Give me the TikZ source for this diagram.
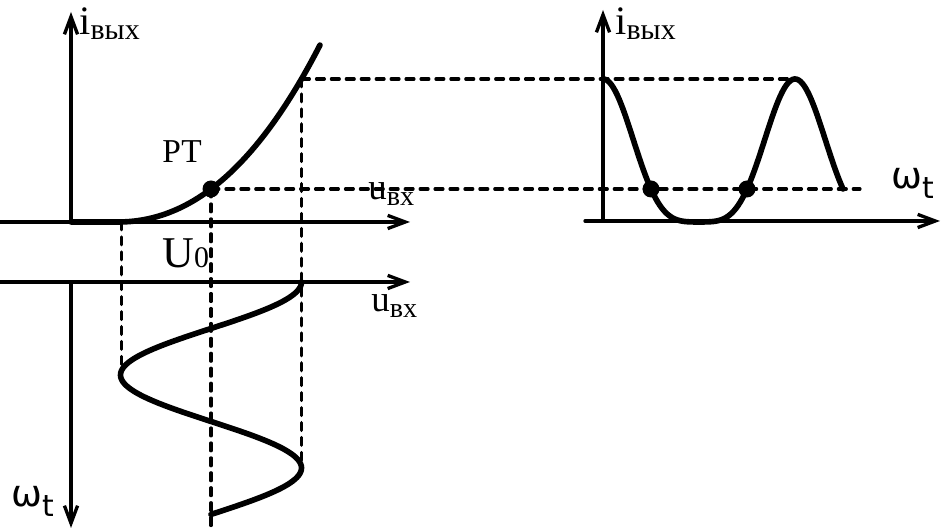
\documentclass[tikz,border=0pt]{standalone}
\usepackage{fontspec}
\setmainfont{Liberation Serif}
\newfontfamily\symfnt{DejaVu Sans}
\usepackage{tkz-euclide}
\usetikzlibrary{arrows.meta}
\tikzset{
  axisline/.style={line width=1.9pt,-{Straight Barb[length=10pt,width=7.5pt]}},
  curve/.style={line width=3.2pt,line cap=round,line join=round},
  guide/.style={line width=1.8pt,dash pattern=on 4.5pt off 4pt},
  lbl/.style={anchor=base west,inner sep=0pt}
}
\newcommand{\ivyh}{{\fontsize{23}{23}\selectfont i}\raisebox{-2.8pt}{\fontsize{17}{17}\selectfont вых}}
\newcommand{\uvh}{{\fontsize{21}{21}\selectfont u}\raisebox{-3pt}{\fontsize{16}{16}\selectfont вх}}
\newcommand{\wtlab}{{\symfnt\fontsize{21}{21}\selectfont ω}\raisebox{-5.5pt}{\symfnt\fontsize{17}{17}\selectfont t}}
\begin{document}
\begin{tikzpicture}[declare function={chr(\x)=6.18+0.1684*\x*\x+0.012*\x*\x*\x; inp(\x)=4.22+1.81*cos(\x);}]
    \useasboundingbox (0,0) rectangle (18.84,10.62);
    % axes
    \tkzDefPoint(0,6.18){A1}
    \tkzDefPoint(8.20,6.18){B1}
    \tkzDefPoint(1.42,6.18){O1}
    \tkzDefPoint(1.42,10.38){I1}
    \tkzDefPoint(0,4.98){A2}
    \tkzDefPoint(8.20,4.98){B2}
    \tkzDefPoint(1.42,4.98){O2}
    \tkzDefPoint(1.42,0.06){W2}
    \tkzDefPoint(11.70,6.20){A3}
    \tkzDefPoint(18.80,6.20){B3}
    \tkzDefPoint(12.06,6.20){O3}
    \tkzDefPoint(12.06,10.42){I3}
    % characteristic and projections
    \tkzDefPoint(2.36,6.18){C}
    \tkzDefPoint(4.22,6.84){Q}
    \tkzDefPoint(6.03,9.04){M}
    \tkzDefPoint(2.43,6.18){L}
    \tkzDefPoint(2.43,3.12){Lb}
    \tkzDefPoint(4.22,0){Qb}
    \tkzDefPoint(6.03,1.26){Mb}
    \tkzDefPoint(15.90,9.04){M3}
    \tkzDefPoint(17.20,6.84){Q3}
    \tkzDefPoint(13.02,6.84){R1}
    \tkzDefPoint(14.94,6.84){R2}
    \tkzDrawSegments[guide](L,Lb Q,Qb M,Mb M,M3 Q,Q3)
    \tkzDrawSegments[axisline](A1,B1 O1,I1 A2,B2 O2,W2 A3,B3 O3,I3)
    \draw[curve] (O1) -- (C) -- plot[domain=2.36:6.40,samples=60] (\x,{chr(\x-2.36)});
    \draw[curve] plot[domain=0:450,samples=120] ({inp(\x)},{4.98-0.01033*\x});
    \draw[curve] plot[domain=12.06:16.86,samples=120] (\x,{chr(max(inp(93.75*(\x-12.06))-2.36,0))});
    \foreach \p in {Q,R1,R2} \fill (\p) circle (0.17);
    %\tkzDrawPoints(Q,R1,R2)
    \node[lbl] (iL) at (1.58,9.92) {\ivyh};
    \node[lbl] (iR) at (12.30,9.92) {\ivyh};
    \node[lbl] (rt) at (3.24,7.36) {\fontsize{19}{19}\selectfont РТ};
    \node[lbl] (u0) at (3.24,5.26) {\fontsize{25}{25}\selectfont U\fontsize{17}{17}\selectfont 0};
    \node[lbl] (uT) at (7.36,6.62) {\uvh};
    \node[lbl] (uB) at (7.42,4.38) {\uvh};
    \node[lbl] (wL) at (0.22,0.48) {\wtlab};
    \node[lbl] (wR) at (17.82,6.84) {\wtlab};
\end{tikzpicture}
\end{document}
